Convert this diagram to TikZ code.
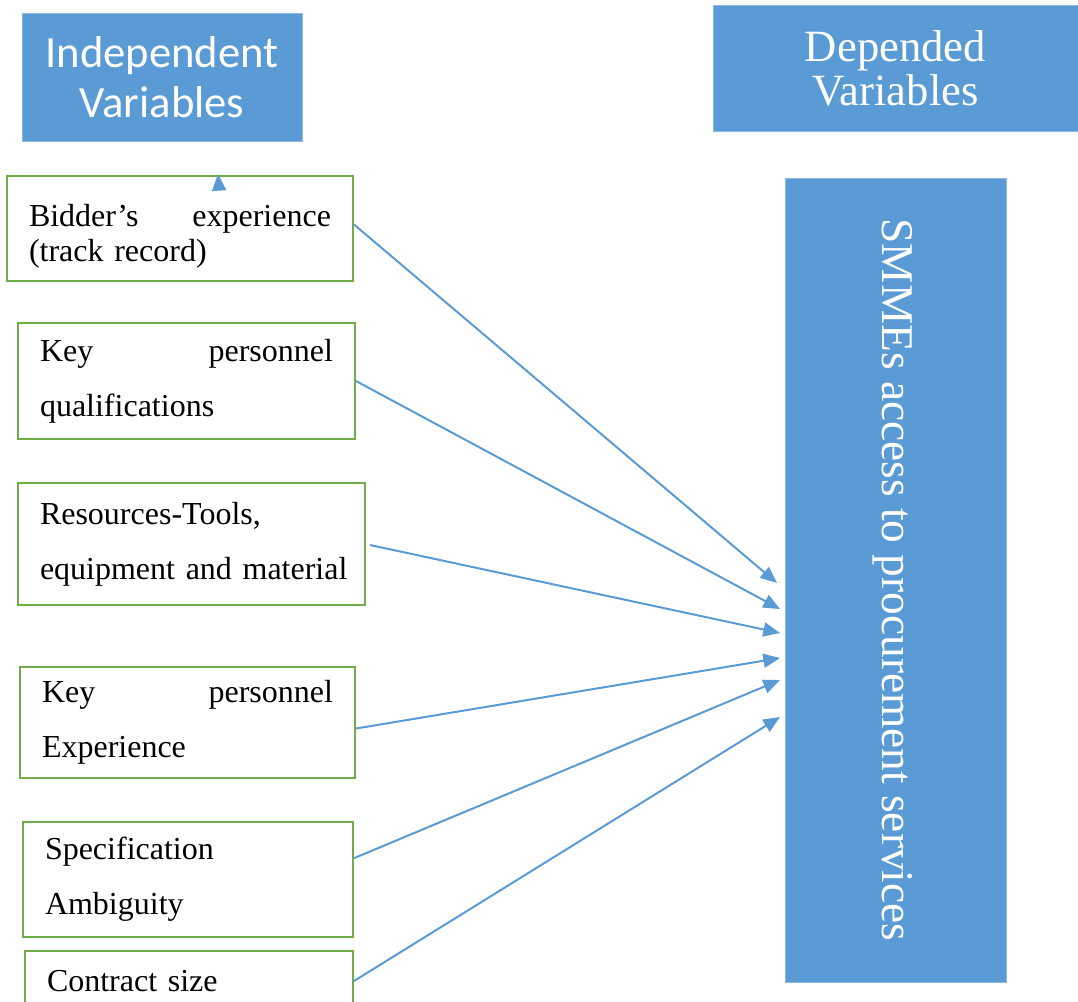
\documentclass[tikz,border=0pt]{standalone}
\usepackage{fontspec}
\setmainfont{Liberation Serif}
\newfontfamily\calib{Carlito}
\usetikzlibrary{arrows.meta}
\definecolor{hdrblue}{HTML}{5B9BD5}
\definecolor{boxgreen}{HTML}{70AD47}
\tikzset{
  hdr/.style={fill=hdrblue, draw=hdrblue!70!white, line width=0.6pt, text=white, align=center, inner sep=0pt},
  varbox/.style={draw=boxgreen, line width=1.5pt, fill=white, inner xsep=16.5pt, inner ysep=0pt, align=left, font=\fontsize{24}{26.5}\selectfont},
  wide/.style={font=\fontsize{24}{41.25}\selectfont},
  link/.style={draw=hdrblue, line width=1.5pt, -{Triangle[length=12.5pt,width=10.5pt]}}
}
\begin{document}
\begin{tikzpicture}[x=0.75pt,y=-0.75pt]
\useasboundingbox (0,0) rectangle (1078,1001);
% headers
\node[hdr, minimum width=280*0.75pt, minimum height=128*0.75pt, font=\calib\fontsize{33.5}{37}\selectfont] (indep) at (162,77) {Independent\\Variables};
\node[hdr, minimum width=365*0.75pt, minimum height=126*0.75pt, font=\fontsize{33.5}{33}\selectfont] (dep) at (895.5,68) {Depended\\Variables};
\node[hdr, minimum width=221*0.75pt, minimum height=804*0.75pt] (smme) at (895.5,580) {};
\node[text=white, rotate=-90, font=\fontsize{34}{36}\selectfont, inner sep=0pt] (smmetxt) at (893,580) {SMMEs access to procurement services};
% variable boxes
\node[varbox, text width=302*0.75pt, minimum height=105*0.75pt] (b1) at (180,228.5) {\rule{0pt}{28pt}Bidder’s\hfill experience\\(track record)};
\node[varbox, wide, text width=293*0.75pt, minimum height=116*0.75pt] (b2) at (186.5,381) {Key\hfill personnel\\qualifications};
\node[varbox, wide, text width=303*0.75pt, minimum height=122*0.75pt] (b3) at (191.5,544) {Resources-Tools,\\\mbox{equipment and material}};
\node[varbox, wide, text width=291*0.75pt, minimum height=111*0.75pt] (b4) at (187.5,722.5) {Key\hfill personnel\\Experience};
\node[varbox, wide, text width=286*0.75pt, minimum height=115*0.75pt] (b5) at (188,879.5) {Specification\\Ambiguity};
\node[varbox, wide, text width=284*0.75pt, minimum height=60*0.75pt] (b6) at (189,981) {Contract size};
% arrow end points
\coordinate (e1) at (777,583);
\coordinate (e2) at (780,609);
\coordinate (e3) at (780,633);
\coordinate (e4) at (780,658);
\coordinate (e5) at (780,680);
\coordinate (e6) at (780,717);
\coordinate (s3) at (370,545);
\draw[link] ([yshift=3pt]b1.east) -- (e1);
\draw[link] (b2.east) -- (e2);
\draw[link] (s3) -- (e3);
\draw[link] ([yshift=-4.5pt]b4.east) -- (e4);
\draw[link] ([yshift=16pt]b5.east) -- (e5);
\draw[link] (b6.east) -- (e6);
% stray small arrowhead
\coordinate (ta) at (219,189);
\coordinate (tb) at (218,174);
\draw[link] (ta) -- (tb);
\end{tikzpicture}
\end{document}
